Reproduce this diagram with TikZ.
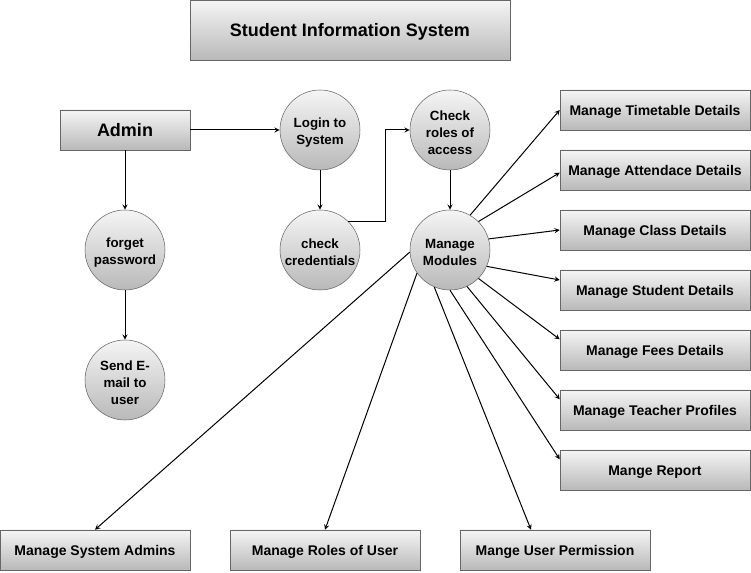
\documentclass[tikz,border=0pt]{standalone}
\usepackage{fontspec}
\setmainfont{Liberation Sans}
\usetikzlibrary{shapes.geometric, arrows}
\newcommand{\cstrut}{\rule{0pt}{11pt}}
\tikzstyle{titlebox} = [rectangle, minimum width=240pt, minimum height=45pt, text height=11pt, text depth=1pt, text centered, draw=black!60, top color=gray!8, bottom color=gray!55, font=\bfseries\fontsize{13.5}{15}\selectfont]
\tikzstyle{actor} = [rectangle, minimum width=97.5pt, minimum height=30pt, text height=11pt, text depth=1pt, text centered, draw=black!60, top color=gray!8, bottom color=gray!55, font=\bfseries\fontsize{13.5}{15}\selectfont]
\tikzstyle{process} = [circle, minimum size=60pt, inner sep=0pt, align=center, draw=black!60, top color=gray!8, bottom color=gray!55, font=\bfseries\fontsize{10}{12.75}\selectfont]
\tikzstyle{module} = [rectangle, minimum width=142.5pt, minimum height=30pt, text height=9pt, text depth=1pt, text centered, draw=black!60, top color=gray!8, bottom color=gray!55, font=\bfseries\fontsize{10.5}{12}\selectfont]
\tikzstyle{arrow} = [->, >=stealth, line width=0.75pt]
\begin{document}
\begin{tikzpicture}[x=0.75pt, y=-0.75pt, node distance=45pt]
\useasboundingbox (0,0) rectangle (751,573);

\node (title) [titlebox] at (350,30) {Student Information System};
\node (admin) [actor] at (125,130) {Admin};
\node (login) [process] at (320,130) {\cstrut Login to\\System};
\node (cred) [process] at (320,250) {\cstrut check\\credentials};
\node (roles) [process] at (450,130) {\cstrut Check\\roles of\\access};
\node (modules) [process] at (450,250) {\cstrut Manage\\Modules};
\node (forget) [process] at (125,250) {\cstrut forget\\password};
\node (mail) [process] at (125,380) {\cstrut Send E-\\mail to\\user};

\node (tt) [module] at (655,110) {Manage Timetable Details};
\node (att) [module, below of=tt] {Manage Attendace Details};
\node (cls) [module, below of=att] {Manage Class Details};
\node (stud) [module, below of=cls] {Manage Student Details};
\node (fees) [module, below of=stud] {Manage Fees Details};
\node (teach) [module, below of=fees] {Manage Teacher Profiles};
\node (rep) [module, below of=teach] {Mange Report};

\node (sysadm) [module] at (95,550) {Manage System Admins};
\node (userrole) [module, right of=sysadm, node distance=172.5pt] {Manage Roles of User};
\node (perm) [module, right of=userrole, node distance=172.5pt] {Mange User Permission};

\draw [arrow] (admin) -- (login);
\draw [arrow] (admin) -- (forget);
\draw [arrow] (forget) -- (mail);
\draw [arrow] (login) -- (cred);
\draw [arrow] (cred.45) -- ++(37,0) |- (roles);
\draw [arrow] (roles) -- (modules);
\draw [arrow] (modules.60) -- (tt.west);
\draw [arrow] (modules.45) -- ([yshift=-2pt]att.west);
\draw [arrow] (modules.16) -- (cls.west);
\draw [arrow] (modules.336) -- ([yshift=7.5pt]stud.west);
\draw [arrow] (modules.315) -- ([yshift=8pt]fees.west);
\draw [arrow] (modules.295) -- ([yshift=8pt]teach.west);
\draw [arrow] (modules.270) -- ([yshift=8pt]rep.west);
\draw [arrow] (modules.183) -- (sysadm.north);
\draw [arrow] (modules.215) -- (userrole.north);
\draw [arrow] (modules.247) -- ([xshift=-18pt]perm.north);

\end{tikzpicture}
\end{document}
